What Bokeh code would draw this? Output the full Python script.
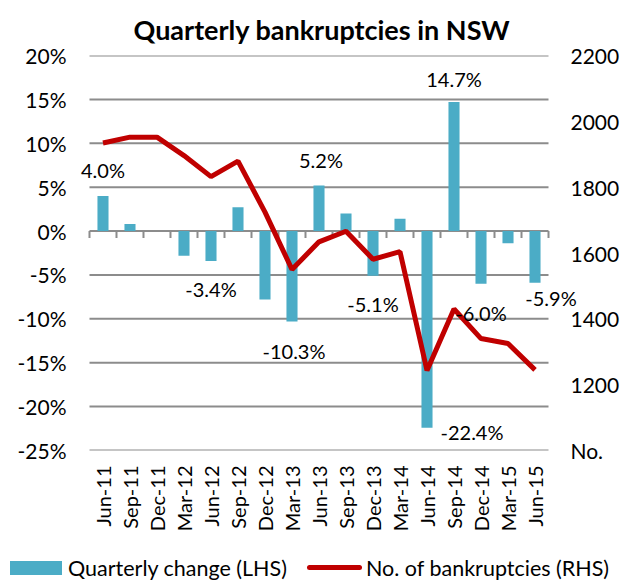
import math
from bokeh.plotting import figure
from bokeh.layouts import column
from bokeh.models import (Range1d, LinearAxis, FixedTicker, PrintfTickFormatter,
                          Div, LabelSet, ColumnDataSource)
from bokeh.core.properties import value
from bokeh.embed import file_html
from bokeh.resources import INLINE

# ---- data ----
quarters = ["Jun-11", "Sep-11", "Dec-11", "Mar-12", "Jun-12", "Sep-12", "Dec-12",
            "Mar-13", "Jun-13", "Sep-13", "Dec-13", "Mar-14", "Jun-14", "Sep-14",
            "Dec-14", "Mar-15", "Jun-15"]
quarterly_change = [4.0, 0.8, 0.0, -2.8, -3.4, 2.7, -7.8, -10.3, 5.2, 2.0, -5.1,
                    1.4, -22.4, 14.7, -6.0, -1.4, -5.9]
bankruptcies = [1934, 1952, 1952, 1896, 1832, 1879, 1724, 1550, 1634, 1666, 1581,
                1604, 1243, 1430, 1340, 1325, 1245]
lhs_ticks = [-25, -20, -15, -10, -5, 0, 5, 10, 15, 20]
rhs_ticks = [1000, 1200, 1400, 1600, 1800, 2000, 2200]
series_names = ["Quarterly change (LHS)", "No. of bankruptcies (RHS)"]

# data labels shown (category -> screen offset dx, dy in px, dy positive = up)
label_offsets = {
    "Jun-11": (0, 26), "Jun-12": (0, -28), "Mar-13": (2, -30), "Jun-13": (2, 25),
    "Dec-13": (0, -28), "Jun-14": (45, -4), "Sep-14": (0, 23), "Dec-14": (0, -29),
    "Jun-15": (16, -15),
}

FONT = "Lato"
BAR = "#4BACC6"
RED = "#C00000"
GRID = "#8c8c8c"

n = len(quarters)
xs = [i + 0.5 for i in range(n)]

# frame is a little wider than the category area so that edge labels are not clipped
p = figure(width=629, height=534, output_backend="svg", toolbar_location=None,
           x_range=Range1d(-0.444, n + 1.259), y_range=Range1d(-25, 20),
           min_border_left=77, min_border_right=47, min_border_top=52,
           min_border_bottom=81, outline_line_color=None)
p.extra_y_ranges = {"rhs": Range1d(1000, 2200)}

p.title.text = "Quarterly bankruptcies in NSW"
p.title.text_font = FONT
p.title.text_font_size = "27px"
p.title.text_font_style = "bold"
p.title.align = "left"
p.title.offset = 56
p.title.standoff = 20
p.title.text_color = "#000000"

# axes
p.yaxis.ticker = FixedTicker(ticks=lhs_ticks)
p.yaxis.formatter = PrintfTickFormatter(format="%d%%")
ax = p.yaxis[0]
ax.axis_line_color = None
ax.major_tick_line_color = None
ax.minor_tick_line_color = None
ax.major_tick_out = 0
ax.major_label_standoff = 11
ax.major_label_text_font = FONT
ax.major_label_text_font_size = "21px"
ax.major_label_text_color = "#000000"

rax = LinearAxis(y_range_name="rhs", ticker=FixedTicker(ticks=rhs_ticks),
                 major_label_overrides={1000: "No."})
rax.axis_line_color = None
rax.major_tick_line_color = None
rax.minor_tick_line_color = None
rax.major_tick_out = 0
rax.major_label_standoff = -12
rax.major_label_text_font = FONT
rax.major_label_text_font_size = "21px"
rax.major_label_text_color = "#000000"
p.add_layout(rax, "right")

p.xaxis.ticker = FixedTicker(ticks=xs)
p.xaxis.major_label_overrides = {x: q for x, q in zip(xs, quarters)}
p.xaxis.major_label_orientation = math.pi / 2
p.xaxis.axis_line_color = None
p.xaxis.major_tick_line_color = None
p.xaxis.minor_tick_line_color = None
p.xaxis.major_tick_out = 0
p.xaxis.major_tick_in = 0
p.xaxis.major_label_standoff = 15
p.xaxis.major_label_text_font = FONT
p.xaxis.major_label_text_font_size = "20px"
p.xaxis.major_label_text_color = "#000000"

p.xgrid.grid_line_color = None
p.ygrid.grid_line_color = None

# horizontal gridlines across the category area only
p.segment(x0=[0] * len(lhs_ticks), y0=lhs_ticks, x1=[n] * len(lhs_ticks),
          y1=lhs_ticks, line_color=GRID, line_width=2)
# category tick marks below the zero line
bounds = list(range(n + 1))
p.segment(x0=bounds, y0=[0] * len(bounds), x1=bounds, y1=[-0.8] * len(bounds),
          line_color=GRID, line_width=2)

p.vbar(x=xs, top=quarterly_change, width=0.41, bottom=0,
       fill_color=BAR, line_color=None)
p.line(x=xs, y=bankruptcies, y_range_name="rhs", line_color=RED, line_width=5)

# data labels
lx, ly, lt, dx, dy = [], [], [], [], []
for q, x, v in zip(quarters, xs, quarterly_change):
    if q in label_offsets:
        lx.append(x); ly.append(v); lt.append(f"{v:.1f}%")
        dx.append(label_offsets[q][0]); dy.append(label_offsets[q][1])
src = ColumnDataSource(dict(x=lx, y=ly, t=lt, dx=dx, dy=dy))
p.add_layout(LabelSet(x="x", y="y", text="t", x_offset="dx", y_offset="dy",
                      source=src, text_align="center", text_baseline="middle",
                      text_font=value(FONT), text_font_size="20px",
                      text_color="#000000"))

# legend strip below the chart
txt = ("position:absolute;top:34px;transform:translateY(-50%);line-height:1.15;"
       "white-space:nowrap;")
legend_html = (
    f'<div style="position:relative;width:629px;height:48px;font-family:{FONT};'
    f'font-size:21.5px;color:#000000;">'
    f'<div style="position:absolute;left:10px;top:27px;width:52px;height:14px;'
    f'background:{BAR};"></div>'
    f'<span style="{txt}left:68px;">{series_names[0]}</span>'
    f'<div style="position:absolute;left:307px;top:31px;width:55px;height:5px;'
    f'border-radius:3px;background:{RED};"></div>'
    f'<span style="{txt}left:366px;">{series_names[1]}</span>'
    f'</div>'
)
lg = Div(text=legend_html, width=629, height=48, margin=0)

open("out.html", "w").write(file_html(column(p, lg, spacing=0), INLINE))
